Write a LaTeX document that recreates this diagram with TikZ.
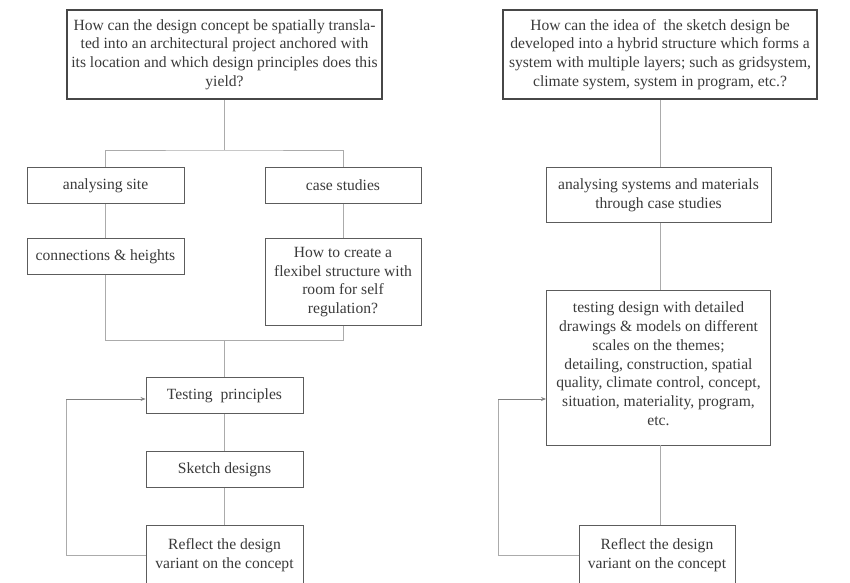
\documentclass[tikz,border=0pt]{standalone}
\usepackage{fontspec}
\setmainfont{Liberation Serif}
\usetikzlibrary{arrows.meta}
\definecolor{txt}{HTML}{3A3A3A}
\definecolor{bord}{HTML}{5C5C5C}
\definecolor{conn}{HTML}{ABABAB}
\tikzset{
  box/.style={draw=bord, line width=0.9pt, rectangle, align=center, inner sep=1pt,
    text=txt, font=\fontsize{15.6}{18.7}\selectfont},
  qbox/.style={box, draw=black!72, line width=1.7pt},
  link/.style={draw=conn, line width=0.9pt},
  fb/.style={draw=black!50, line width=0.8pt, -{Stealth[length=5pt,width=4pt]}},
}
\begin{document}
\begin{tikzpicture}[x=1pt,y=-1pt]
\useasboundingbox (0,0) rectangle (850,582);
\clip (0,0) rectangle (850,582);
% ---------- left ----------
\node[qbox, minimum width=315, minimum height=89] (topL) at (224.5,54.5)
  {How can the design concept be spatially transla-\\ted into an architectural project anchored with\\its location and which design principles does this\\yield?};
\node[box, minimum width=157, minimum height=36] (asite) at (105.5,185.5) {analysing site};
\node[box, minimum width=156, minimum height=36] (cases) at (343,185.5) {case studies};
\node[box, minimum width=157, minimum height=36] (conns) at (105.5,256.5) {connections \& heights};
\node[box, minimum width=156, minimum height=87] (flex) at (343,282) {How to create a\\flexibel structure with\\room for self\\regulation?};
\node[box, minimum width=157, minimum height=36] (test) at (224.5,395.5) {Testing\ \ principles};
\node[box, minimum width=157, minimum height=36] (sketch) at (224.5,469.5) {Sketch designs};
\node[box, minimum width=157, minimum height=60] (reflL) at (224.5,555) {Reflect the design\\variant on the concept};
\coordinate (j1) at (224.5,150);
\coordinate (j2) at (224.5,340);
\coordinate (fbL) at (66,399);
\draw[link] (topL.south) -- (j1);
\draw[link] (asite.north) |- (j1) -| (cases.north);
\draw[link] (asite.south) -- (conns.north);
\draw[link] (cases.south) -- (flex.north);
\draw[link] (conns.south) |- (j2) -| (flex.south);
\draw[link] (j2) -- (test.north);
\draw[link] (test.south) -- (sketch.north);
\draw[link] (sketch.south) -- (reflL.north);
\draw[link] (reflL.west) -| (fbL);
\draw[fb] (fbL) -- (fbL -| test.west);
% ---------- right ----------
\node[qbox, minimum width=314, minimum height=89] (topR) at (660,54.5)
  {How can the idea of\ \ the sketch design be\\developed into a hybrid structure which forms a\\system with multiple layers; such as gridsystem,\\climate system, system in program, etc.?};
\node[box, minimum width=225, minimum height=55] (asys) at (658.5,195) {analysing systems and materials\\through case studies};
\node[box, minimum width=224, minimum height=155] (tdes) at (658.5,367.5) {testing design with detailed\\drawings \& models on different\\scales on the themes;\\detailing, construction, spatial\\quality, climate control, concept,\\situation, materiality, program,\\etc.\\[-11pt]\mbox{}};
\node[box, minimum width=156, minimum height=60] (reflR) at (657,555) {Reflect the design\\variant on the concept};
\coordinate (fbR) at (498,399);
\draw[link] (topR.south) -- (topR.south |- asys.north);
\draw[link] (topR.south |- asys.south) -- (topR.south |- tdes.north);
\draw[link] (topR.south |- tdes.south) -- (topR.south |- reflR.north);
\draw[link] (reflR.west) -| (fbR);
\draw[fb] (fbR) -- (fbR -| tdes.west);
\end{tikzpicture}
\end{document}
